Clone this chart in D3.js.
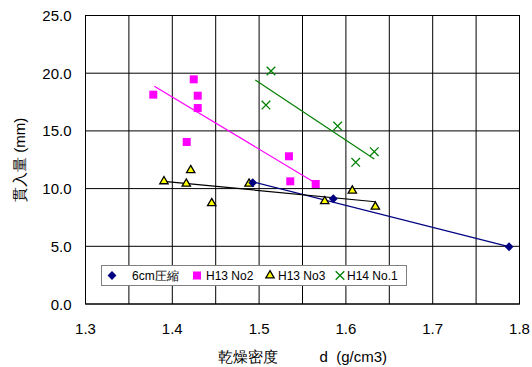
<!DOCTYPE html>
<html>
<head>
<meta charset="utf-8">
<script src="https://cdn.jsdelivr.net/npm/d3@7"></script>
<style>
  body { margin: 0; background: #fff; }
  svg { display: block; font-family: "Liberation Sans", Arial, sans-serif; }
</style>
</head>
<body>
<div id="chart"></div>
<script>
// series values: [dry density, penetration mm]
const s6cm = [[1.4926, 10.51], [1.5855, 9.12], [1.788, 4.96]];
const h13no2 = [[1.3781, 18.14], [1.4247, 19.47], [1.4293, 18.05], [1.4293, 16.98],
                [1.4166, 14.04], [1.5344, 12.80], [1.5359, 10.63], [1.5652, 10.40]];
const h13no3 = [[1.3904, 10.63], [1.4161, 10.42], [1.4212, 11.59], [1.4454, 8.73],
                [1.4884, 10.42], [1.5756, 8.90], [1.6074, 9.82], [1.6339, 8.43]];
const h14no1 = [[1.5137, 20.19], [1.5079, 17.24], [1.5905, 15.42], [1.6113, 12.28], [1.6327, 13.20]];

// trend line end points
const trend6cm = [[1.4926, 10.60], [1.7876, 4.97]];
const trendNo2 = [[1.3793, 18.86], [1.5625, 10.60]];
const trendNo3 = [[1.3904, 10.63], [1.6339, 8.86]];
const trendNo1 = [[1.4956, 19.41], [1.6327, 12.56]];

const seriesNames = ["6cm圧縮", "H13 No2", "H13 No3", "H14 No.1"];
const xTicks = [1.3, 1.4, 1.5, 1.6, 1.7, 1.8];
const xGrid = [1.35, 1.45, 1.55, 1.65, 1.75];
const yTicks = [0, 5, 10, 15, 20, 25];

const width = 532, height = 367;
const margin = {top: 15.5, right: 12.5, bottom: 63, left: 85.5};

const svg = d3.select("#chart").append("svg")
    .attr("width", width)
    .attr("height", height);

let x = d3.scaleLinear().domain([1.3, 1.8]).range([margin.left, width - margin.right]);
let y = d3.scaleLinear().domain([0, 25]).range([height - margin.bottom, margin.top]);

// grid
svg.append("g").selectAll("line.v")
    .data(xTicks.concat(xGrid))
    .enter().append("line")
        .attr("x1", d => x(d)).attr("x2", d => x(d))
        .attr("y1", y(25)).attr("y2", y(0))
        .attr("stroke", "#000").attr("stroke-width", 1);

svg.append("g").selectAll("line.h")
    .data(yTicks)
    .enter().append("line")
        .attr("x1", x(1.3)).attr("x2", x(1.8))
        .attr("y1", d => y(d)).attr("y2", d => y(d))
        .attr("stroke", "#000").attr("stroke-width", 1);

svg.append("rect")
    .attr("x", x(1.3)).attr("y", y(25))
    .attr("width", x(1.8) - x(1.3)).attr("height", y(0) - y(25))
    .attr("fill", "none").attr("stroke", "#000");

// tick labels
svg.append("g").selectAll("text")
    .data(yTicks)
    .enter().append("text")
        .attr("x", x(1.3) - 14)
        .attr("y", d => y(d) + 5.5)
        .attr("text-anchor", "end")
        .attr("font-size", 15)
        .text(d => d.toFixed(1));

svg.append("g").selectAll("text")
    .data(xTicks)
    .enter().append("text")
        .attr("x", d => x(d))
        .attr("y", y(0) + 30)
        .attr("text-anchor", "middle")
        .attr("font-size", 15)
        .text(d => d.toFixed(1));

// axis titles
svg.append("text")
    .attr("transform", `translate(25, ${(y(0) + y(25)) / 2}) rotate(-90)`)
    .attr("text-anchor", "middle")
    .attr("font-size", 15)
    .text("貫入量 (mm)");

svg.append("text")
    .attr("x", (x(1.3) + x(1.8)) / 2)
    .attr("y", 362)
    .attr("text-anchor", "middle")
    .attr("font-size", 15)
    .attr("xml:space", "preserve")
    .style("white-space", "pre")
    .text("乾燥密度          d  (g/cm3)");

// trend lines
const line = d3.line().x(d => x(d[0])).y(d => y(d[1]));
[[trend6cm, "#000080"], [trendNo2, "#ff00ff"], [trendNo3, "#000"], [trendNo1, "#008000"]]
    .forEach(([pts, color]) => {
        svg.append("path")
            .attr("d", line(pts))
            .attr("fill", "none")
            .attr("stroke", color)
            .attr("stroke-width", 1.2);
    });

// markers
const diamond = d3.symbol().type(d3.symbolDiamond2).size(50);
const triangle = d3.symbol().type(d3.symbolTriangle2).size(50);
const cross = d3.symbol().type(d3.symbolTimes).size(50);

function drawDiamond(g, px, py) {
    g.append("path").attr("d", diamond())
        .attr("transform", `translate(${px},${py})`)
        .attr("fill", "#000080");
}
function drawSquare(g, px, py) {
    g.append("rect").attr("x", px - 4).attr("y", py - 4)
        .attr("width", 8).attr("height", 8)
        .attr("fill", "#ff00ff");
}
function drawTriangle(g, px, py) {
    g.append("path").attr("d", triangle())
        .attr("transform", `translate(${px},${py})`)
        .attr("fill", "#ffff00").attr("stroke", "#000").attr("stroke-width", 1.3);
}
function drawCross(g, px, py) {
    g.append("path").attr("d", cross())
        .attr("transform", `translate(${px},${py})`)
        .attr("fill", "none").attr("stroke", "#008000").attr("stroke-width", 1.3);
}

const marks = svg.append("g");
h13no2.forEach(d => drawSquare(marks, x(d[0]), y(d[1])));
h13no3.forEach(d => drawTriangle(marks, x(d[0]), y(d[1])));
h14no1.forEach(d => drawCross(marks, x(d[0]), y(d[1])));
s6cm.forEach(d => drawDiamond(marks, x(d[0]), y(d[1])));

// legend
const legend = svg.append("g");
legend.append("rect")
    .attr("x", 101.5).attr("y", 265.5)
    .attr("width", 305).attr("height", 20)
    .attr("fill", "#fff").attr("stroke", "#808080");

const legendItems = [
    {name: seriesNames[0], mx: 112, tx: 132, draw: drawDiamond},
    {name: seriesNames[1], mx: 197, tx: 206, draw: drawSquare},
    {name: seriesNames[2], mx: 270, tx: 278, draw: drawTriangle},
    {name: seriesNames[3], mx: 340, tx: 347, draw: drawCross}
];
legendItems.forEach(item => {
    item.draw(legend, item.mx, 275.5);
    legend.append("text")
        .attr("x", item.tx).attr("y", 280)
        .attr("font-size", 12)
        .text(item.name);
});
</script>
</body>
</html>
